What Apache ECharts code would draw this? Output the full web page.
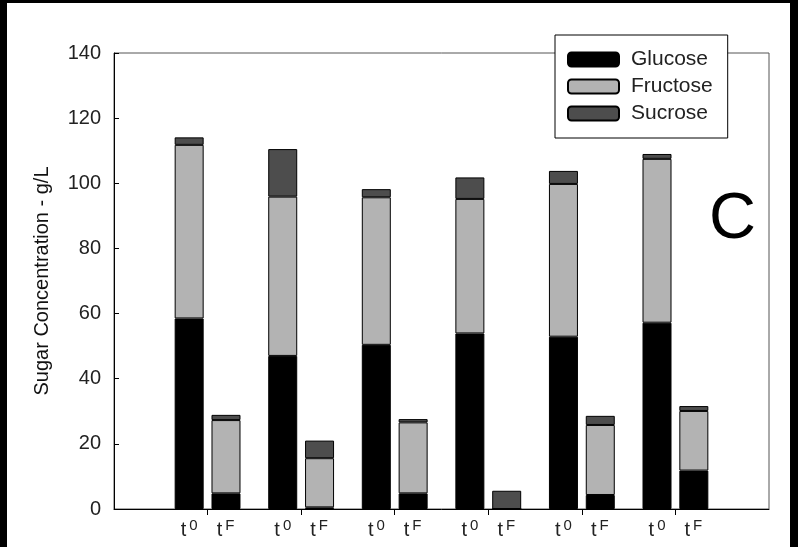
<!DOCTYPE html>
<html>
<head>
<meta charset="utf-8">
<script src="https://cdn.jsdelivr.net/npm/echarts@6/dist/echarts.min.js"></script>
<style>
  html, body { margin: 0; padding: 0; background: #000; width: 798px; height: 547px; overflow: hidden; }
  #chart { position: absolute; left: 7px; top: 3px; width: 783px; height: 544px; background: #fff; }
</style>
</head>
<body>
<div id="chart"></div>
<script>
// ---- data ----
const pairNames = ['1', '2', '3', '4', '5', '6'];   // six sample pairs (t0 / tF)
const timeLabels = ['0', 'F'];                      // superscripts of t for the two bars in a pair
const legendNames = ['Glucose', 'Fructose', 'Sucrose'];
const t0Glucose  = [58.5, 47.0, 50.4, 53.9, 52.9, 57.2];
const t0Fructose = [53.3, 48.9, 45.3, 41.3, 46.9, 50.3];
const t0Sucrose  = [2.3, 14.6, 2.5, 6.6, 4.0, 1.5];
const tFGlucose  = [4.8, 0.5, 4.8, 0, 4.3, 11.8];
const tFFructose = [22.5, 15.1, 21.8, 0, 21.5, 18.3];
const tFSucrose  = [1.6, 5.4, 1.0, 5.6, 2.8, 1.5];
const yTicks = [0, 20, 40, 60, 80, 100, 120, 140];

const FONT = "'Liberation Sans', Arial, sans-serif";
const colors = { Glucose: '#000000', Fructose: '#b3b3b3', Sucrose: '#4d4d4d' };
// empty slot at each end of the axis, pairs in between
const categories = [''].concat(pairNames).concat([' ']);
const isPair = (idx) => idx >= 1 && idx <= pairNames.length;

function mk(name, stack, values) {
  return {
    type: 'bar', name: name, stack: stack,
    data: ['-'].concat(values).concat(['-']),
    barWidth: 29, barGap: '27%',
    itemStyle: { color: colors[name], borderColor: '#000', borderWidth: 1 },
    emphasis: { disabled: true }
  };
}

const chart = echarts.init(document.getElementById('chart'), null, { renderer: 'canvas' });
chart.setOption({
  animation: false,
  backgroundColor: '#fff',
  textStyle: { fontFamily: FONT },
  grid: { left: 107, right: 21, top: 50, bottom: 38, show: true, borderColor: '#555', borderWidth: 1, backgroundColor: 'transparent' },
  title: {
    text: 'C', left: 702, top: 185, padding: 0,
    textStyle: { fontSize: 65, fontWeight: 'normal', color: '#000', fontFamily: FONT, lineHeight: 65 }
  },
  legend: {
    data: legendNames,
    orient: 'vertical',
    left: 548, top: 32,
    padding: [14, 15, 14, 12],
    itemWidth: 51, itemHeight: 14, itemGap: 6,
    backgroundColor: '#fff', borderColor: '#000', borderWidth: 1,
    selectedMode: false,
    textStyle: { fontSize: 21, lineHeight: 21, color: '#222', fontFamily: FONT, padding: [0, 0, 0, 7] }
  },
  xAxis: {
    type: 'category', data: categories, boundaryGap: false,
    splitLine: { show: false },
    axisLine: { show: true, onZero: false, lineStyle: { color: '#000', width: 1 } },
    axisTick: { show: true, interval: (i) => isPair(i), length: 6, inside: false, lineStyle: { color: '#000' } },
    axisLabel: {
      interval: (i) => isPair(i),
      margin: 9,
      formatter: function () {
        return '{t|t}{s|' + timeLabels[0] + '}{g|}{t|t}{s|' + timeLabels[1] + '}';
      },
      rich: {
        t: { fontSize: 20, fontFamily: FONT, color: '#222', verticalAlign: 'bottom', lineHeight: 22 },
        s: { fontSize: 15, fontFamily: FONT, color: '#222', verticalAlign: 'top', lineHeight: 15, padding: [0, 0, 0, 3] },
        g: { width: 19 }
      }
    }
  },
  yAxis: {
    type: 'value', min: 0, max: 140, interval: 20,
    name: 'Sugar Concentration - g/L',
    nameLocation: 'middle', nameGap: 62, nameRotate: 90,
    nameTextStyle: { fontSize: 20, color: '#111', fontFamily: FONT },
    splitLine: { show: false },
    axisLine: { show: true, lineStyle: { color: '#000', width: 1 } },
    axisTick: { show: true, inside: true, length: 5, lineStyle: { color: '#000' } },
    axisLabel: { fontSize: 20, color: '#222', margin: 13, fontFamily: FONT,
      formatter: function (v) { return yTicks.indexOf(v) >= 0 ? String(v) : ''; } }
  },
  series: [
    mk('Glucose', 't0', t0Glucose),
    mk('Fructose', 't0', t0Fructose),
    mk('Sucrose', 't0', t0Sucrose),
    mk('Glucose', 'tF', tFGlucose),
    mk('Fructose', 'tF', tFFructose),
    mk('Sucrose', 'tF', tFSucrose)
  ]
});
</script>
</body>
</html>
